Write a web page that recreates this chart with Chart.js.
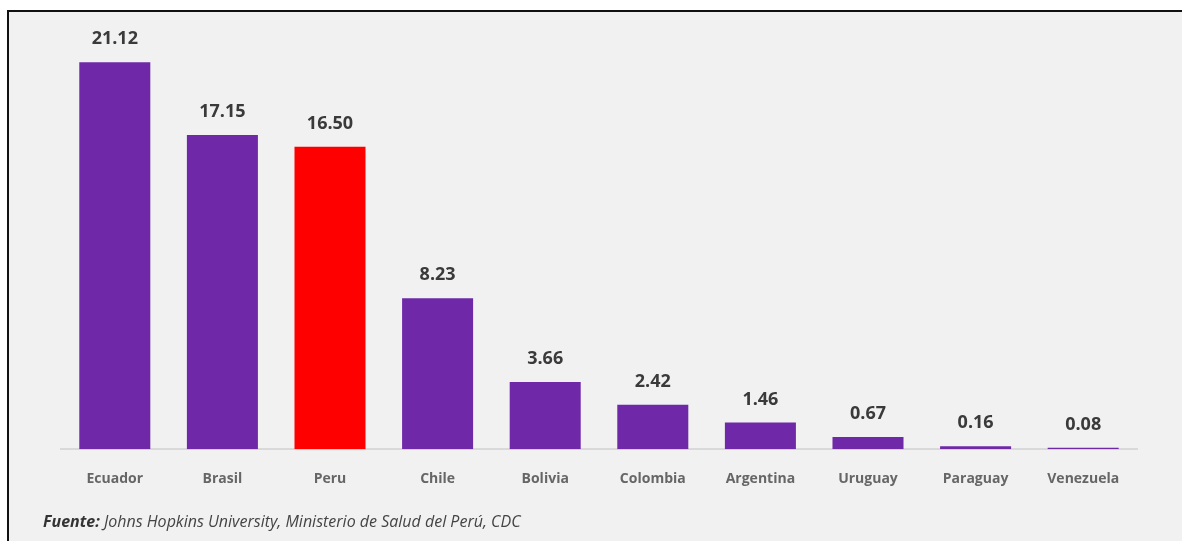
<!DOCTYPE html>
<html>
<head>
<meta charset="utf-8">
<script src="https://cdn.jsdelivr.net/npm/chart.js@4.4.1/dist/chart.umd.min.js"></script>
<style>
  html, body { margin: 0; padding: 0; background: #ffffff; overflow: hidden; }
  #marco {
    position: absolute; left: 7px; top: 10px; width: 1180px; height: 540px;
    background: #f1f1f1; border-left: 2px solid #111; border-top: 2px solid #111;
  }
  #wrap { position: absolute; left: 0; top: 0; width: 1182px; height: 541px; }
  #fuente {
    position: absolute; left: 43px; top: 510px; white-space: nowrap;
    font-family: "Open Sans", sans-serif; font-style: italic; font-size: 16px; color: #444;
  }
  #fuente b { font-weight: 700; color: #333; }
</style>
</head>
<body>
<div id="marco"></div>
<div id="wrap"><canvas id="grafico" width="1182" height="541"></canvas></div>
<div id="fuente"><b>Fuente:</b> Johns Hopkins University, Ministerio de Salud del Perú, CDC</div>
<script>
// datos
const paises = ['Ecuador', 'Brasil', 'Peru', 'Chile', 'Bolivia', 'Colombia', 'Argentina', 'Uruguay', 'Paraguay', 'Venezuela'];
const valores = [21.12, 17.15, 16.50, 8.23, 3.66, 2.42, 1.46, 0.67, 0.16, 0.08];
const resaltado = 'Peru';

const morado = '#6e28a8';
const rojo = '#ff0000';

// etiquetas de valor sobre cada barra
const etiquetasValor = {
  id: 'etiquetasValor',
  afterDatasetsDraw(chart) {
    const ctx = chart.ctx;
    const meta = chart.getDatasetMeta(0);
    ctx.save();
    ctx.font = '700 18px "Open Sans", sans-serif';
    ctx.fillStyle = '#3a3a3a';
    ctx.textAlign = 'center';
    ctx.textBaseline = 'middle';
    meta.data.forEach((barra, i) => {
      ctx.fillText(valores[i].toFixed(2), barra.x, barra.y - 23);
    });
    ctx.restore();
  }
};

const ctx = document.getElementById('grafico').getContext('2d');
new Chart(ctx, {
  type: 'bar',
  data: {
    labels: paises,
    datasets: [{
      data: valores,
      backgroundColor: paises.map(p => p === resaltado ? rojo : morado),
      borderWidth: 0,
      barPercentage: 0.66,
      categoryPercentage: 1
    }]
  },
  options: {
    responsive: false,
    animation: false,
    layout: { padding: { left: 61, right: 45, top: 46, bottom: 41 } },
    plugins: {
      legend: { display: false },
      tooltip: { enabled: false }
    },
    scales: {
      x: {
        grid: { display: false },
        border: { display: true, color: '#d9d9d9', width: 2 },
        ticks: {
          padding: 13,
          color: '#666',
          font: { family: '"Open Sans", sans-serif', size: 14, weight: '700' }
        }
      },
      y: {
        display: false,
        min: 0,
        max: 22
      }
    }
  },
  plugins: [etiquetasValor]
});
</script>
</body>
</html>
